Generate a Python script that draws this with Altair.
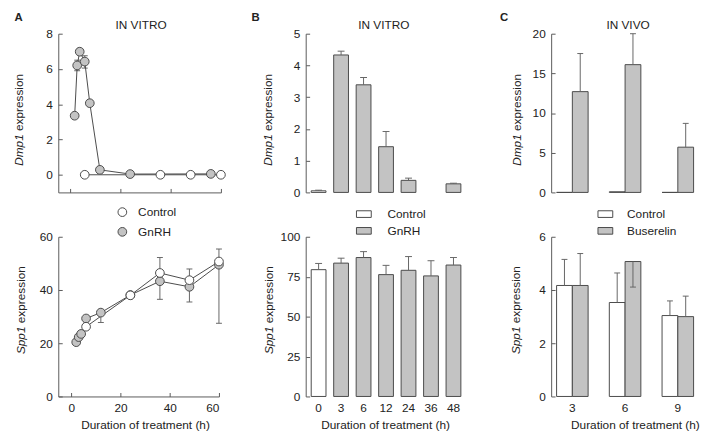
import altair as alt
import pandas as pd

FONT = "Liberation Sans"
INK = "#222222"
EDGE = "#4a4a4a"
AXC = "#5a5a5a"
GRAY = "#c3c3c3"
ERRC = "#666666"
NEG_TICK = {"expr": "-4"}

# ---------------- data ----------------
# Panel A, top: Dmp1 expression, in vitro time course
a1_gnrh_t = [2, 3, 4, 6, 8, 12, 24, 56]
a1_gnrh_v = [3.35, 6.2, 6.98, 6.42, 4.06, 0.28, 0.04, 0.05]
a1_ctrl_t = [6, 36, 48, 60]
a1_ctrl_v = [0.0, 0.0, 0.0, 0.0]
a1_err_t = [3, 3, 4, 6, 6]
a1_err_v = [6.2, 6.2, 6.98, 6.42, 6.42]
a1_err_e = [6.5, 5.9, 7.15, 6.75, 6.05]

# Panel A, bottom: Spp1 expression
a2_gnrh_t = [2, 3, 4, 6, 12, 24, 36, 48, 60]
a2_gnrh_v = [20.4, 22.3, 23.5, 29.3, 31.5, 38.1, 43.3, 41.2, 49.5]
a2_ctrl_t = [6, 24, 36, 48, 60]
a2_ctrl_v = [26.2, 38.0, 46.4, 43.7, 50.7]
a2_err_t = [12, 36, 48, 60, 36, 48, 60]
a2_err_v = [31.5, 43.3, 41.2, 49.5, 46.4, 43.7, 50.7]
a2_err_e = [27.8, 36.5, 35.5, 27.5, 52.2, 47.9, 55.4]

# Panel B
b_hours = ["0", "3", "6", "12", "24", "36", "48"]
b1_t = ["0", "3", "6", "12", "24", "48"]
b1_g = ["Control", "GnRH", "GnRH", "GnRH", "GnRH", "GnRH"]
b1_v = [0.05, 4.33, 3.39, 1.44, 0.38, 0.27]
b1_e = [0.07, 4.45, 3.62, 1.92, 0.45, 0.29]
b2_g = ["Control", "GnRH", "GnRH", "GnRH", "GnRH", "GnRH", "GnRH"]
b2_v = [79.4, 83.5, 87.0, 76.3, 79.0, 75.5, 82.3]
b2_e = [83.3, 86.6, 90.7, 82.1, 87.6, 85.0, 87.0]

# Panel C
c_hours = ["3", "6", "9"]
c_groups = ["Control", "Buserelin"]
c1_ctrl = [0.0, 0.08, 0.0]
c1_bus = [12.7, 16.1, 5.7]
c1_bus_e = [17.5, 20.0, 8.7]
c2_ctrl = [4.17, 3.53, 3.04]
c2_ctrl_e = [5.15, 4.64, 3.59]
c2_bus = [4.17, 5.07, 3.00]
c2_bus_e = [5.37, 4.11, 3.77]

XTITLE = "Duration of treatment (h)"


# ---------------- helpers ----------------
def txt(text, x, y, **kw):
    return alt.Chart(pd.DataFrame({"k": [0]})).mark_text(
        text=text, font=FONT, color=INK, **kw
    ).encode(x=alt.value(x), y=alt.value(y))


def ytitle(gene, gene_w, x, start):
    return [
        txt(gene, x, start, angle=270, align="left", baseline="middle",
            fontSize=12, fontStyle="italic"),
        txt("expression", x, start - gene_w - 3.3, angle=270, align="left",
            baseline="middle", fontSize=12),
    ]


def head(letter, lx, title, tx):
    return [
        txt(letter, lx, -13, fontSize=11.5, fontWeight="bold", align="left",
            baseline="alphabetic"),
        txt(title, tx, -5, fontSize=12, align="center", baseline="alphabetic"),
    ]


def yaxis(values):
    return alt.Axis(values=values, title=None, grid=False, tickSize=NEG_TICK,
                    labelPadding=10)


def band_xaxis(title_x):
    return alt.Axis(title=XTITLE, labelAngle=0, domain=False, ticks=False,
                    labelPadding=6.5, titleX=title_x, titleY=32,
                    titleBaseline="alphabetic", titleAlign="center")


# ---------------- panel A ----------------
fill_a = alt.Scale(domain=["Control", "GnRH"], range=["#ffffff", GRAY])


def scatter_panel(pts, err, xdom, ydom, yvals, xaxis, w, h, legend, extras):
    xs = alt.Scale(domain=xdom, nice=False, zero=False)
    ys = alt.Scale(domain=ydom, nice=False, zero=False)
    x = alt.X("t:Q", scale=xs, axis=xaxis)
    y = alt.Y("v:Q", scale=ys, axis=yaxis(yvals))
    ye = alt.Y("e:Q", scale=ys, axis=yaxis(yvals))
    lines = alt.Chart(pts).mark_line(color=EDGE, strokeWidth=1).encode(
        x=x, y=y, detail="g:N")
    rules = alt.Chart(err).mark_rule(color=ERRC, strokeWidth=1).encode(
        x=x, y=y, y2="e:Q")
    caps = alt.Chart(err).mark_tick(orient="horizontal", size=6, thickness=1,
                                    color=ERRC, opacity=1).encode(x=x, y=ye)
    dots = alt.Chart(pts).mark_circle(size=78, opacity=1, stroke=EDGE,
                                      strokeWidth=1).encode(
        x=x, y=y, fill=alt.Fill("g:N", scale=fill_a, legend=legend))
    return alt.layer(rules, caps, lines, dots, *extras).properties(width=w, height=h)


a1_pts = pd.DataFrame({
    "t": a1_gnrh_t + a1_ctrl_t,
    "v": a1_gnrh_v + a1_ctrl_v,
    "g": ["GnRH"] * len(a1_gnrh_t) + ["Control"] * len(a1_ctrl_t),
})
a1_errs = pd.DataFrame({"t": a1_err_t, "v": a1_err_v, "e": a1_err_e})
a2_pts = pd.DataFrame({
    "t": a2_gnrh_t + a2_ctrl_t,
    "v": a2_gnrh_v + a2_ctrl_v,
    "g": ["GnRH"] * len(a2_gnrh_t) + ["Control"] * len(a2_ctrl_t),
})
a2_errs = pd.DataFrame({"t": a2_err_t, "v": a2_err_v, "e": a2_err_e})

a_top = scatter_panel(
    a1_pts, a1_errs, [-4.5, 60], [-1, 8], [0, 2, 4, 6, 8],
    alt.Axis(values=[0, 20, 40, 60], title=None, grid=False, tickSize=NEG_TICK,
             labelOpacity=0, labelPadding=2),
    165, 161, None,
    head("A", -44.5, "IN VITRO", 84) + ytitle("Dmp1", 32, -39.5, 134),
)
legend_a = alt.Legend(orient="none", legendX=59, legendY=-31, title=None,
                      symbolType="circle", symbolSize=78, symbolStrokeColor=EDGE,
                      symbolStrokeWidth=1, labelOffset=10, rowPadding=6, padding=0,
                      labelFontSize=12)
a_bot = scatter_panel(
    a2_pts, a2_errs, [-5.3, 60], [0, 60], [0, 20, 40, 60],
    alt.Axis(values=[0, 20, 40, 60], title=XTITLE, grid=False, tickSize=NEG_TICK,
             labelPadding=10.5, titleX=88, titleY=32, titleBaseline="alphabetic",
             titleAlign="center"),
    163, 162, legend_a,
    ytitle("Spp1", 28, -37.7, 119),
)

# ---------------- panel B ----------------
fill_b = alt.Scale(domain=["Control", "GnRH"], range=["#ffffff", GRAY])
RECT = "M-1,-0.45H1V0.45H-1Z"


def bar_panel_b(df, ydom, yvals, xaxis, w, h, legend, extras):
    xs = alt.Scale(domain=b_hours, paddingInner=0.342, paddingOuter=0.245)
    ys = alt.Scale(domain=ydom, nice=False, zero=True)
    x = alt.X("t:N", sort=b_hours, scale=xs, axis=xaxis)
    y = alt.Y("v:Q", scale=ys, axis=yaxis(yvals))
    ye = alt.Y("e:Q", scale=ys, axis=yaxis(yvals))
    rules = alt.Chart(df).mark_rule(color=ERRC, strokeWidth=1).encode(
        x=x, y=y, y2="e:Q")
    caps = alt.Chart(df).mark_tick(orient="horizontal", size=7, thickness=1,
                                   color=ERRC, opacity=1).encode(x=x, y=ye)
    bars = alt.Chart(df).mark_bar(stroke=EDGE, strokeWidth=1).encode(
        x=x, y=y, fill=alt.Fill("g:N", scale=fill_b, legend=legend))
    return alt.layer(bars, rules, caps, *extras).properties(width=w, height=h)


b1_df = pd.DataFrame({"t": b1_t, "g": b1_g, "v": b1_v, "e": b1_e})
b2_df = pd.DataFrame({"t": b_hours, "g": b2_g, "v": b2_v, "e": b2_e})

b_top = bar_panel_b(
    b1_df, [0, 5], [0, 1, 2, 3, 4, 5], None, 163, 161, None,
    head("B", -55, "IN VITRO", 79.3) + ytitle("Dmp1", 32, -38, 134),
)
legend_b = alt.Legend(orient="none", legendX=51, legendY=-31, title=None,
                      symbolType=RECT, symbolSize=225, symbolStrokeColor=EDGE,
                      symbolStrokeWidth=1, labelOffset=16, rowPadding=3, padding=0,
                      labelFontSize=12)
b_bot = bar_panel_b(
    b2_df, [0, 100], [0, 25, 50, 75, 100], band_xaxis(80.5), 163, 162, legend_b,
    ytitle("Spp1", 28, -37, 119),
)

# ---------------- panel C ----------------
fill_c = alt.Scale(domain=c_groups, range=["#ffffff", GRAY])


def bar_panel_c(df, err, ydom, yvals, xaxis, w, h, legend, extras):
    xs = alt.Scale(domain=c_hours, paddingInner=0.402, paddingOuter=0.103)
    ys = alt.Scale(domain=ydom, nice=False, zero=True)
    x = alt.X("t:N", sort=c_hours, scale=xs, axis=xaxis)
    xo = alt.XOffset("g:N", sort=c_groups,
                     scale=alt.Scale(domain=c_groups, paddingInner=0, paddingOuter=0))
    y = alt.Y("v:Q", scale=ys, axis=yaxis(yvals))
    ye = alt.Y("e:Q", scale=ys, axis=yaxis(yvals))
    rules = alt.Chart(err).mark_rule(color=ERRC, strokeWidth=1).encode(
        x=x, xOffset=xo, y=y, y2="e:Q")
    caps = alt.Chart(err).mark_tick(orient="horizontal", size=6, thickness=1,
                                    color=ERRC, opacity=1).encode(x=x, xOffset=xo, y=ye)
    bars = alt.Chart(df).mark_bar(stroke=EDGE, strokeWidth=1).encode(
        x=x, xOffset=xo, y=y, fill=alt.Fill("g:N", scale=fill_c, legend=legend))
    return alt.layer(bars, rules, caps, *extras).properties(width=w, height=h)


c1_df = pd.DataFrame({
    "t": c_hours * 2, "g": ["Control"] * 3 + ["Buserelin"] * 3,
    "v": c1_ctrl + c1_bus,
})
c1_err = pd.DataFrame({"t": c_hours, "g": ["Buserelin"] * 3, "v": c1_bus, "e": c1_bus_e})
c2_df = pd.DataFrame({
    "t": c_hours * 2, "g": ["Control"] * 3 + ["Buserelin"] * 3,
    "v": c2_ctrl + c2_bus,
})
c2_err = pd.DataFrame({
    "t": c_hours * 2, "g": ["Control"] * 3 + ["Buserelin"] * 3,
    "v": c2_ctrl + c2_bus, "e": c2_ctrl_e + c2_bus_e,
})

c_top = bar_panel_c(
    c1_df, c1_err, [0, 20], [0, 5, 10, 15, 20], None, 150, 161, None,
    head("C", -52, "IN VIVO", 78) + ytitle("Dmp1", 32, -35, 134),
)
legend_c = alt.Legend(orient="none", legendX=47, legendY=-31, title=None,
                      symbolType=RECT, symbolSize=225, symbolStrokeColor=EDGE,
                      symbolStrokeWidth=1, labelOffset=14, rowPadding=3, padding=0,
                      labelFontSize=12)
c_bot = bar_panel_c(
    c2_df, c2_err, [0, 6], [0, 2, 4, 6], band_xaxis(85), 150, 162, legend_c,
    ytitle("Spp1", 28, -35.5, 119),
)

# ---------------- layout: one 3-column grid ----------------
chart = (
    alt.concat(a_top, b_top, c_top, a_bot, b_bot, c_bot, columns=3,
               spacing={"row": 45, "column": 86}, bounds="flush", align="each")
    .resolve_scale(x="independent", y="independent", fill="independent",
                   xOffset="independent")
    .resolve_legend(fill="independent")
    .properties(padding={"left": 4, "top": 0, "right": 0, "bottom": 0})
    .configure(font=FONT)
    .configure_axis(labelFont=FONT, labelFontSize=12, labelColor=INK,
                    titleFont=FONT, titleFontSize=12, titleFontWeight="normal",
                    titleColor=INK, domainColor=AXC, tickColor=AXC, grid=False)
    .configure_legend(labelFont=FONT, labelColor=INK)
    .configure_view(stroke="transparent")
)

chart.save("out.html", embed_options={"renderer": "svg", "actions": False})
